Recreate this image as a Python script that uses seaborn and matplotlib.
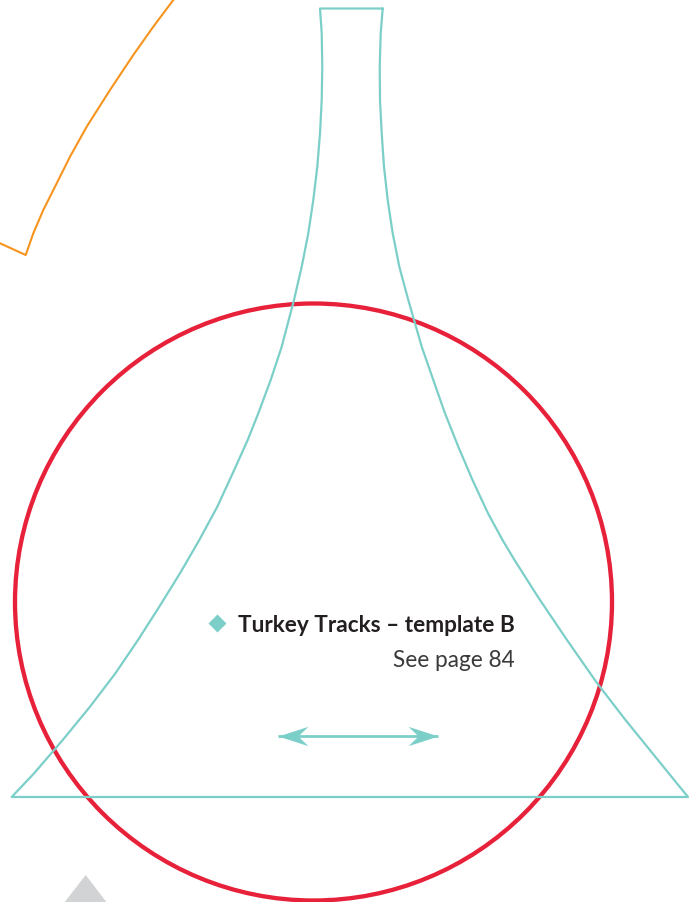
import numpy as np
import matplotlib
matplotlib.use('Agg')
import matplotlib.pyplot as plt
from matplotlib.patches import Circle, Polygon
from matplotlib.path import Path
import seaborn as sns

# template outline (pixel units, y grows downwards)
left_x = [320, 321.7, 322.3, 321.7, 320, 317.3, 313.3, 308.3, 301.7, 294, 281.7, 270.7,
          258.3, 247.7, 232.7, 217.3, 199.3, 180, 159.3, 138, 115.4, 90, 62.7, 34.1, 11.7]
left_y = [8.5, 33.3, 66.7, 100, 133.3, 166.7, 200, 233.3, 266.7, 300, 346.7, 380,
          413.3, 440, 473.3, 506.7, 540, 573.3, 606.7, 640, 673.3, 706.7, 740, 773.3, 797]
right_x = [382.7, 380.7, 379.7, 380, 381.7, 384, 387.7, 392.7, 399.3, 408.3, 421.7, 433.3,
           445, 458.3, 472.5, 488, 502.5, 514.5, 538, 567, 597, 625.5, 655.5, 688]
right_y = [8.5, 33.3, 66.7, 100, 133.3, 166.7, 200, 233.3, 266.7, 300, 346.7, 380,
           413.3, 446.7, 480, 513.3, 540, 560, 597, 640, 683, 720, 757, 797]

# orange arc piece at top left
orange_x = [-5, 25.7, 33.3, 43.3, 55, 70, 86.7, 110, 133.3, 153.3, 173.3, 180]
orange_y = [241, 255, 233.3, 210, 186.7, 156.7, 126.7, 90, 55, 26.7, 0, -9]

# red circle
circle_center = (313.5, 602)
circle_radius = 298.5

# grey triangle peeking at the bottom
grey_x = [85.7, 114, 57]
grey_y = [875, 912, 912]

# grain arrow
arrow_x = [278.3, 438]
arrow_y = [736, 736]

diamond_pos = (217.3, 622.7)
title = 'Turkey Tracks \u2013 template B'
subtitle = 'See page 84'

TEAL = '#7ccfc9'
RED = '#e8213a'
ORANGE = '#f7941d'
GREY = '#d1d3d4'
INK = '#231f20'

sns.set_theme(style='white')
plt.rcParams['font.family'] = ['Lato', 'DejaVu Sans']

fig = plt.figure(figsize=(6.89, 9.02), dpi=100)
ax = fig.add_axes([0, 0, 1, 1])
ax.set_xlim(0, 689)
ax.set_ylim(902, 0)
ax.axis('off')

ax.add_patch(Polygon(list(zip(grey_x, grey_y)), closed=True, facecolor=GREY, edgecolor='none'))

sns.lineplot(x=orange_x, y=orange_y, sort=False, estimator=None, color=ORANGE, lw=1.5, ax=ax)

# closed outline: down the right side, along the base, up the left side, across the top
outline_x = right_x + left_x[::-1] + [right_x[0]]
outline_y = right_y + left_y[::-1] + [right_y[0]]
sns.lineplot(x=outline_x, y=outline_y, sort=False, estimator=None, color=TEAL, lw=1.6, ax=ax)
for ln in ax.lines:
    ln.set_solid_joinstyle('round')

ax.add_patch(Circle(circle_center, circle_radius, fill=False, edgecolor=RED, lw=3.1))

# arrow shaft and swept-back heads
ax.plot(arrow_x, arrow_y, color=TEAL, lw=2.0, solid_capstyle='butt')
head_r = Path([(0, 0), (-30, 9.7), (-20, 0), (-30, -9.7), (0, 0)],
              [Path.MOVETO, Path.LINETO, Path.LINETO, Path.LINETO, Path.CLOSEPOLY])
head_l = Path([(0, 0), (30, 9.7), (20, 0), (30, -9.7), (0, 0)],
              [Path.MOVETO, Path.LINETO, Path.LINETO, Path.LINETO, Path.CLOSEPOLY])
ax.plot(arrow_x[1], arrow_y[1], marker=head_r, ms=43, color=TEAL, mec='none')
ax.plot(arrow_x[0], arrow_y[0], marker=head_l, ms=43, color=TEAL, mec='none')

ax.plot(*diamond_pos, marker='D', ms=9.5, color=TEAL, mec='none')
ax.text(515, 632, title, ha='right', va='baseline', fontsize=16.3,
        fontweight='bold', color=INK)
ax.text(515, 667, subtitle, ha='right', va='baseline', fontsize=16.3,
        fontweight='normal', color='#3a3a3a')

fig.savefig('out.png', dpi=100, facecolor='white')
